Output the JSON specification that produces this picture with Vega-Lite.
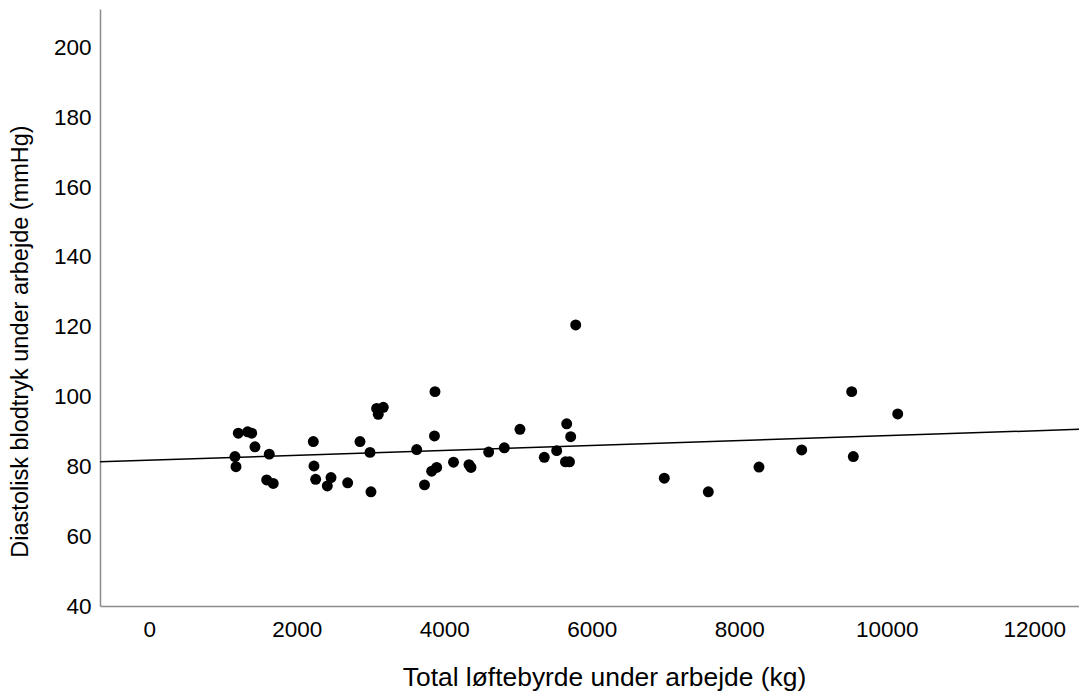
{
  "$schema": "https://vega.github.io/schema/vega-lite/v6.json",
  "width": 979,
  "height": 597,
  "autosize": {"type": "none"},
  "padding": {"left": 100, "top": 9, "right": 0, "bottom": 87},
  "background": "white",
  "config": {
    "view": {"stroke": null},
    "font": "Liberation Sans",
    "axis": {
      "grid": false,
      "ticks": false,
      "domainColor": "#8c8c8c",
      "domainWidth": 1.5,
      "labelFont": "Liberation Sans",
      "labelFontSize": 22.5,
      "labelColor": "#000000",
      "titleFont": "Liberation Sans",
      "titleFontWeight": "normal",
      "titleColor": "#000000"
    }
  },
  "datasets": {
    "points": [
      {"x": 1162, "y": 82.8}, {"x": 1176, "y": 79.9}, {"x": 1207, "y": 89.5}, {"x": 1334, "y": 89.9},
      {"x": 1389, "y": 89.5}, {"x": 1433, "y": 85.6}, {"x": 1627, "y": 83.5}, {"x": 1592, "y": 76.1},
      {"x": 1681, "y": 75.1}, {"x": 2224, "y": 87.1}, {"x": 2233, "y": 80.1}, {"x": 2256, "y": 76.3},
      {"x": 2464, "y": 76.8}, {"x": 2414, "y": 74.4}, {"x": 2690, "y": 75.3}, {"x": 2857, "y": 87.1},
      {"x": 2993, "y": 84.0}, {"x": 3006, "y": 72.7}, {"x": 3083, "y": 96.6}, {"x": 3173, "y": 96.9},
      {"x": 3105, "y": 94.9}, {"x": 3626, "y": 84.8}, {"x": 3874, "y": 101.4}, {"x": 3867, "y": 88.7},
      {"x": 3732, "y": 74.7}, {"x": 3829, "y": 78.6}, {"x": 3897, "y": 79.7}, {"x": 4125, "y": 81.2},
      {"x": 4335, "y": 80.5}, {"x": 4362, "y": 79.7}, {"x": 4602, "y": 84.1}, {"x": 4814, "y": 85.3},
      {"x": 5026, "y": 90.6}, {"x": 5356, "y": 82.6}, {"x": 5524, "y": 84.5}, {"x": 5660, "y": 92.2},
      {"x": 5714, "y": 88.5}, {"x": 5643, "y": 81.3}, {"x": 5698, "y": 81.3}, {"x": 5782, "y": 120.5},
      {"x": 6983, "y": 76.6}, {"x": 7580, "y": 72.7}, {"x": 8267, "y": 79.8}, {"x": 8846, "y": 84.7},
      {"x": 9524, "y": 101.4}, {"x": 9546, "y": 82.8}, {"x": 10148, "y": 95.0}
    ],
    "fit": [
      {"x": -668, "y": 81.3},
      {"x": 12606, "y": 90.6}
    ]
  },
  "layer": [
    {
      "data": {"name": "fit"},
      "mark": {"type": "line", "color": "#000000", "strokeWidth": 1.5, "clip": true},
      "encoding": {
        "x": {"field": "x", "type": "quantitative"},
        "y": {"field": "y", "type": "quantitative"}
      }
    },
    {
      "data": {"name": "points"},
      "mark": {"type": "point", "filled": true, "shape": "circle", "size": 120, "color": "#000000", "opacity": 1},
      "encoding": {
        "x": {
          "field": "x", "type": "quantitative",
          "scale": {"domain": [-668, 12606], "nice": false, "zero": false},
          "axis": {
            "title": "Total løftebyrde under arbejde (kg)",
            "titleFontSize": 26.4,
            "values": [0, 2000, 4000, 6000, 8000, 10000, 12000],
            "format": "d",
            "labelPadding": 12,
            "titleX": 504,
            "titleY": 71,
            "titleAlign": "center",
            "titleBaseline": "middle"
          }
        },
        "y": {
          "field": "y", "type": "quantitative",
          "scale": {"domain": [40, 211], "nice": false, "zero": false},
          "axis": {
            "title": "Diastolisk blodtryk under arbejde (mmHg)",
            "titleFontSize": 23.5,
            "values": [40, 60, 80, 100, 120, 140, 160, 180, 200],
            "labelPadding": 9,
            "titleX": -80,
            "titleY": 332,
            "titleAngle": -90,
            "titleAlign": "center",
            "titleBaseline": "middle"
          }
        }
      }
    }
  ]
}
